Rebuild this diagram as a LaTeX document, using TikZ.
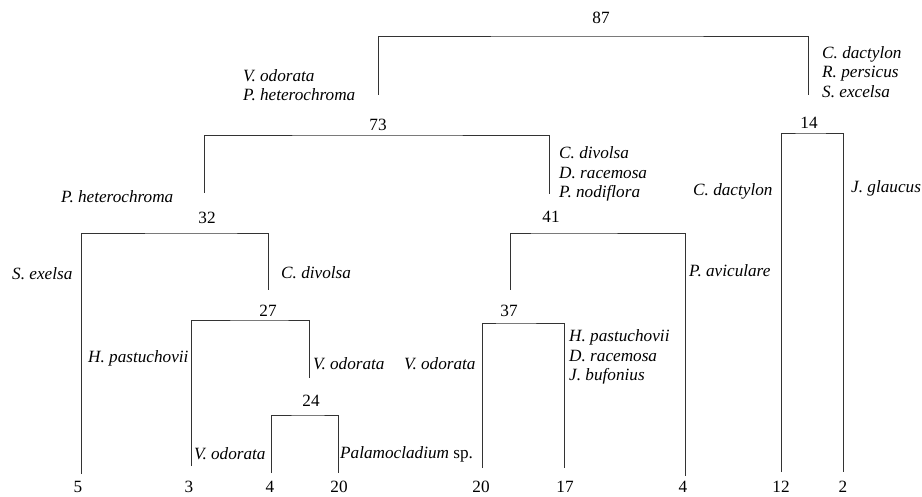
\documentclass[tikz,border=0pt]{standalone}
\usepackage{fontspec}
\setmainfont{Liberation Serif}
\usetikzlibrary{positioning}

\begin{document}
\begin{tikzpicture}[x=1pt,y=-1pt,font=\fontsize{17.2}{19.5}\selectfont,
  num/.style={inner sep=0pt},
  taxon/.style={font=\fontsize{17.2}{19.5}\selectfont\itshape,align=left,inner sep=0pt,anchor=west},
  link/.style={draw=black!80,line width=0.9pt}]
\useasboundingbox (0,0) rectangle (922,497);
% similarity values
\node[num] (n87) at (601,18) {87};
\node[num] (n73) at (378,125) {73};
\node[num] (n14) at (809,123) {14};
\node[num] (n32) at (207,218) {32};
\node[num] (n41) at (551,217) {41};
\node[num] (n27) at (268,311) {27};
\node[num] (n37) at (509,311) {37};
\node[num] (n24) at (311,401) {24};
% bar levels
\coordinate (b87) at (601,36);
\coordinate (b73) at (378,135);
\coordinate (b14) at (809,133);
\coordinate (b32) at (207,233);
\coordinate (b41) at (551,233);
\coordinate (b27) at (268,320);
\coordinate (b37) at (509,323);
\coordinate (b24) at (311,415);
% branch ends
\coordinate (e73) at (378,95);
\coordinate (e14) at (808,95);
\coordinate (e32) at (204,193);
\coordinate (e41) at (549,194);
\coordinate (e27) at (268,290);
\coordinate (e37) at (510,290);
\coordinate (e24) at (309,378);
\coordinate (eSe) at (81,474);
\coordinate (eHp) at (191,466);
\coordinate (eVo) at (271,473);
\coordinate (ePa) at (338,473);
\coordinate (eVo2) at (482,468);
\coordinate (eHp2) at (564,468);
\coordinate (ePav) at (685,476);
\coordinate (eCd) at (781,472);
\coordinate (eJg) at (843,472);
% leaf counts
\node[num] (l5) at (78,487) {5};
\node[num] (l3) at (189,487) {3};
\node[num] (l4) at (270,487) {4};
\node[num] (l20) at (339,487) {20};
\node[num] (l20b) at (481,487) {20};
\node[num] (l17) at (565,487) {17};
\node[num] (l4b) at (683,487) {4};
\node[num] (l12) at (781,487) {12};
\node[num] (l2) at (843,487) {2};
% brackets
\draw[link] (e73) |- (b87) -| (e14);
\draw[link] (e32) |- (b73) -| (e41);
\draw[link] (eCd) |- (b14) -| (eJg);
\draw[link] (eSe) |- (b32) -| (e27);
\draw[link] (e37) |- (b41) -| (ePav);
\draw[link] (eHp) |- (b27) -| (e24);
\draw[link] (eVo2) |- (b37) -| (eHp2);
\draw[link] (eVo) |- (b24) -| (ePa);
% species
\node[taxon] (tVoPh) at (243,85) {V. odorata\\P. heterochroma};
\node[taxon] (tCdRpSe) at (822,72) {C. dactylon\\R. persicus\\S. excelsa};
\node[taxon] (tPh) at (61,197) {P. heterochroma};
\node[taxon] (tCdDrPn) at (559,174) {C. divolsa\\D. racemosa\\P. nodiflora};
\node[taxon] (tCd) at (693,191) {C. dactylon};
\node[taxon] (tJg) at (851,188) {J. glaucus};
\node[taxon] (tSe) at (12,274) {S. exelsa};
\node[taxon] (tCdv) at (281,273) {C. divolsa};
\node[taxon] (tHp) at (88,358) {H. pastuchovii};
\node[taxon] (tVo) at (313,364) {V. odorata};
\node[taxon] (tVo2) at (404,364) {V. odorata};
\node[taxon] (tVo3) at (194,454) {V. odorata};
\node[taxon] (tPa) at (340,454) {Palamocladium \upshape sp.};
\node[taxon] (tHpDrJb) at (569,357) {H. pastuchovii\\D. racemosa\\J. bufonius};
\node[taxon] (tPav) at (689,271) {P. aviculare};
\end{tikzpicture}
\end{document}
